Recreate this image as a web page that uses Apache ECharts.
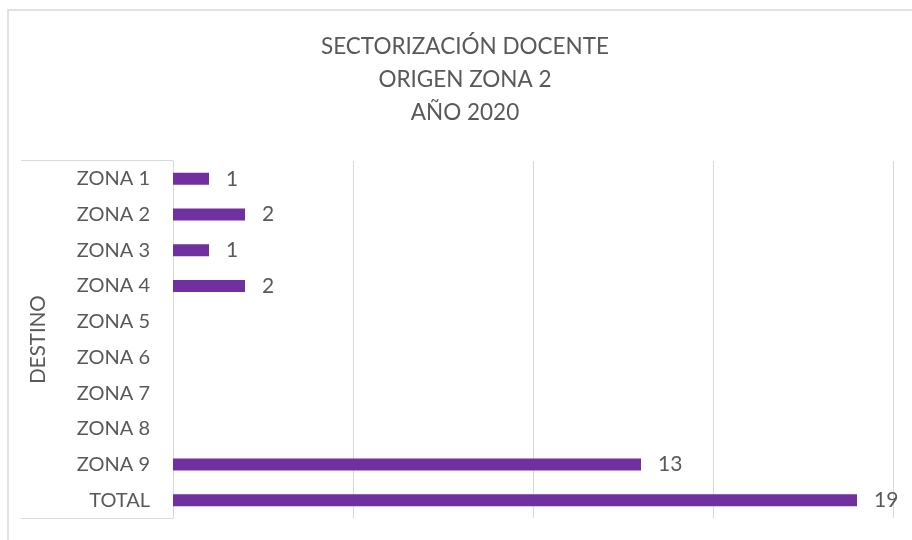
<!DOCTYPE html>
<html>
<head>
<meta charset="utf-8">
<script src="https://cdn.jsdelivr.net/npm/echarts@6/dist/echarts.min.js"></script>
<style>
  html, body { margin: 0; padding: 0; background: #fff; }
  #chart { width: 912px; height: 540px; }
</style>
</head>
<body>
<div id="chart"></div>
<script>
const categories = ['ZONA 1', 'ZONA 2', 'ZONA 3', 'ZONA 4', 'ZONA 5', 'ZONA 6', 'ZONA 7', 'ZONA 8', 'ZONA 9', 'TOTAL']
const values = [1, 2, 1, 2, 0, 0, 0, 0, 13, 19]
const titleLines = ['SECTORIZACIÓN DOCENTE', 'ORIGEN ZONA 2', 'AÑO 2020']
const axisName = 'DESTINO'

const textColor = '#595959'
const lineColor = '#d9d9d9'
const font = 'Lato'

const chart = echarts.init(document.getElementById('chart'))

const option = {
  animation: false,
  title: {
    text: titleLines.join('\n'),
    left: 465,
    top: 30,
    padding: 0,
    textAlign: 'center',
    textStyle: {
      fontFamily: font,
      fontSize: 22.5,
      fontWeight: 'normal',
      color: textColor,
      lineHeight: 33,
    },
  },
  grid: {
    left: 173,
    right: 19,
    top: 161,
    bottom: 22,
    containLabel: false,
  },
  xAxis: {
    type: 'value',
    min: 0,
    max: 20,
    interval: 5,
    axisLabel: { show: false },
    axisLine: { show: false },
    axisTick: { show: false },
    splitLine: { lineStyle: { color: lineColor, width: 1 } },
  },
  yAxis: {
    type: 'category',
    data: categories,
    inverse: true,
    name: axisName,
    nameLocation: 'middle',
    nameGap: 124,
    nameRotate: 90,
    nameTextStyle: {
      fontFamily: font,
      fontSize: 20.5,
      color: textColor,
    },
    axisLine: { lineStyle: { color: lineColor, width: 1 } },
    axisTick: { show: false },
    axisLabel: {
      fontFamily: font,
      fontSize: 20,
      color: textColor,
      margin: 23,
    },
  },
  graphic: [
    {
      type: 'rect',
      shape: { x: 8, y: 10, width: 1000, height: 600 },
      style: { fill: 'none', stroke: lineColor, lineWidth: 1.5 },
      silent: true,
    },
    {
      type: 'line',
      shape: { x1: 21, y1: 160.5, x2: 173, y2: 160.5 },
      style: { stroke: lineColor, lineWidth: 1 },
    },
    {
      type: 'line',
      shape: { x1: 21, y1: 518.5, x2: 173, y2: 518.5 },
      style: { stroke: lineColor, lineWidth: 1 },
    },
  ],
  series: [
    {
      type: 'bar',
      data: values.map(v => (v === 0 ? null : v)),
      barWidth: 12,
      itemStyle: { color: '#7030a0' },
      label: {
        show: true,
        position: 'right',
        distance: 17,
        fontFamily: font,
        fontSize: 21,
        color: textColor,
      },
    },
  ],
}

chart.setOption(option)
</script>
</body>
</html>
